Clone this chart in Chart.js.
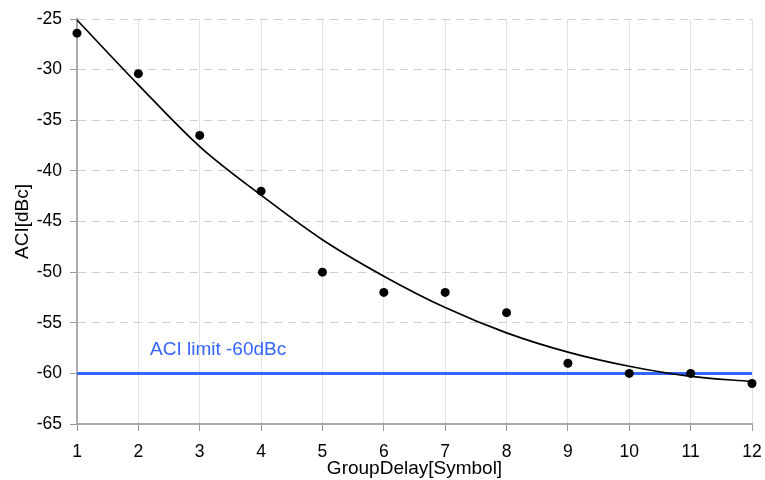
<!DOCTYPE html>
<html>
<head>
<meta charset="utf-8">
<script src="https://cdn.jsdelivr.net/npm/chart.js@4/dist/chart.umd.min.js"></script>
<style>
  html, body { margin: 0; padding: 0; background: #fff; }
  #wrap { width: 765px; height: 480px; }
</style>
</head>
<body>
<div id="wrap"><canvas id="chart-aci" width="765" height="480"></canvas></div>
<script>
// ── Data ─────────────────────────────────────────────────────────────
const groupDelay = [1, 2, 3, 4, 5, 6, 7, 8, 9, 10, 11, 12];
const aciMeasured = [-26.4, -30.4, -36.5, -42, -50, -52, -52, -54, -59, -60, -60, -61];
const aciTrend = [-25.1, -31.5, -37.6, -42.4, -46.8, -50.4, -53.5, -56.0, -57.9, -59.3, -60.3, -60.8];
const aciLimit = -60;
const limitLabel = 'ACI limit -60dBc';
const yTicks = [-65, -60, -55, -50, -45, -40, -35, -30, -25];

const FONT = "'Liberation Sans', Arial, sans-serif";
const BLUE = '#3366ff';

Chart.defaults.font.family = FONT;
Chart.defaults.color = '#000';

// label above the limit line
const limitText = {
    id: 'limitText',
    afterDatasetsDraw(chart) {
        const { ctx, scales } = chart;
        ctx.save();
        ctx.fillStyle = BLUE;
        ctx.font = `19px ${FONT}`;
        ctx.textAlign = 'left';
        ctx.textBaseline = 'middle';
        ctx.fillText(limitLabel, scales.x.getPixelForValue(2.19), scales.y.getPixelForValue(aciLimit + 2.3));
        ctx.restore();
    },
};

new Chart(document.getElementById('chart-aci'), {
    type: 'line',
    data: {
        datasets: [
            {
                label: 'measured',
                data: groupDelay.map((x, i) => ({ x, y: aciMeasured[i] })),
                showLine: false,
                pointRadius: 4.5,
                pointBackgroundColor: '#000',
                pointBorderColor: '#000',
                pointBorderWidth: 0,
                clip: false,
                order: 0,
            },
            {
                label: 'trend',
                data: groupDelay.map((x, i) => ({ x, y: aciTrend[i] })),
                borderColor: '#000',
                borderWidth: 1.7,
                pointRadius: 0,
                cubicInterpolationMode: 'monotone',
                clip: false,
                order: 1,
            },
            {
                label: 'limit',
                data: [
                    { x: groupDelay[0], y: aciLimit },
                    { x: groupDelay[groupDelay.length - 1], y: aciLimit },
                ],
                borderColor: BLUE,
                borderWidth: 3,
                pointRadius: 0,
                order: 2,
            },
        ],
    },
    options: {
        responsive: false,
        animation: false,
        layout: { padding: { top: 19, right: 13, left: 0, bottom: 0 } },
        scales: {
            x: {
                type: 'linear',
                min: 1,
                max: 12,
                afterFit: s => {
                    s.height = 56;
                    s.paddingLeft = 0;
                    s.paddingRight = 0;
                },
                ticks: { stepSize: 1, padding: 11, font: { size: 17.5 }, color: '#000', maxRotation: 0 },
                grid: { color: '#e2e2e2', tickColor: '#999', tickLength: 7 },
                border: { color: '#aaa', width: 2 },
                title: {
                    display: true,
                    text: 'GroupDelay[Symbol]',
                    font: { size: 19 },
                    color: '#000',
                    padding: { top: 0, bottom: 0 },
                },
            },
            y: {
                min: -65,
                max: -25,
                afterFit: s => { s.width = 77; },
                afterBuildTicks: s => { s.ticks = yTicks.map(v => ({ value: v })); },
                ticks: { padding: 8, font: { size: 17.5 }, color: '#000' },
                grid: { color: '#cfcfcf', tickColor: '#999', tickLength: 7 },
                border: { color: '#aaa', width: 2, dash: [8, 6] },
                title: {
                    display: true,
                    text: 'ACI[dBc]',
                    font: { size: 19 },
                    color: '#000',
                    padding: { top: 11, bottom: 0 },
                },
            },
        },
        plugins: {
            legend: { display: false },
            tooltip: { enabled: false },
        },
    },
    plugins: [limitText],
});
</script>
</body>
</html>
